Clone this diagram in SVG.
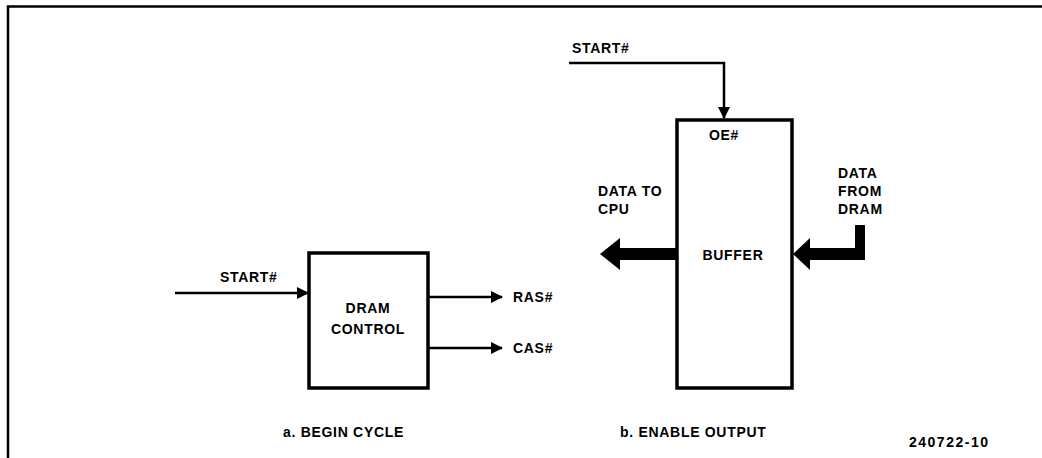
<svg xmlns="http://www.w3.org/2000/svg" width="1042" height="458" viewBox="0 0 1042 458">
<defs>
<style>
.t{font-family:"Liberation Sans",Arial,sans-serif;font-weight:bold;font-size:14px;letter-spacing:0.7px;fill:#000}
.ln{stroke:#000;stroke-width:2.5;fill:none}
.box{stroke:#000;stroke-width:3.5;fill:#fff}
.big{fill:#000;stroke:none}
</style>
<marker id="ah" markerWidth="12" markerHeight="12" refX="11" refY="6" orient="auto" markerUnits="userSpaceOnUse">
<path d="M0,0 L12,6 L0,12 Z" fill="#000"/>
</marker>
</defs>
<rect width="1042" height="458" fill="#fff"/>
<g id="frame">
<path d="M8,458 V6.5 H1042" stroke="#000" stroke-width="2.5" fill="none"/>
</g>
<g id="connectors">
<line class="ln" x1="175" y1="293" x2="308" y2="293" marker-end="url(#ah)"/>
<line class="ln" x1="428" y1="297" x2="502" y2="297" marker-end="url(#ah)"/>
<line class="ln" x1="428" y1="348" x2="502" y2="348" marker-end="url(#ah)"/>
<path class="ln" d="M569,63 H724 V118" marker-end="url(#ah)"/>
<path class="big" d="M677,248 H620 V238 L600,254 L620,270 V260 H677 Z"/>
<path class="big" d="M865,225 V260 H810 V270 L793,254 L810,238 V248 H855 V225 Z"/>
</g>
<g id="dram-control">
<rect class="box" x="309" y="253" width="119" height="135"/>
<text class="t" x="368" y="313" text-anchor="middle">DRAM</text>
<text class="t" x="368" y="334" text-anchor="middle">CONTROL</text>
</g>
<g id="buffer">
<rect class="box" x="677" y="120" width="115" height="268"/>
<text class="t" x="724" y="140" text-anchor="middle">OE#</text>
<text class="t" x="733" y="260" text-anchor="middle">BUFFER</text>
</g>
<g id="labels">
<text class="t" x="220" y="282">START#</text>
<text class="t" x="513" y="302">RAS#</text>
<text class="t" x="513" y="353">CAS#</text>
<text class="t" x="572" y="53">START#</text>
<text class="t" x="598" y="196">DATA TO</text>
<text class="t" x="598" y="214">CPU</text>
<text class="t" x="838" y="178">DATA</text>
<text class="t" x="838" y="196">FROM</text>
<text class="t" x="838" y="214">DRAM</text>
<text class="t" x="283" y="437">a. BEGIN CYCLE</text>
<text class="t" x="620" y="437">b. ENABLE OUTPUT</text>
<text class="t" x="909" y="447" style="letter-spacing:1.5px">240722-10</text>
</g>
</svg>
